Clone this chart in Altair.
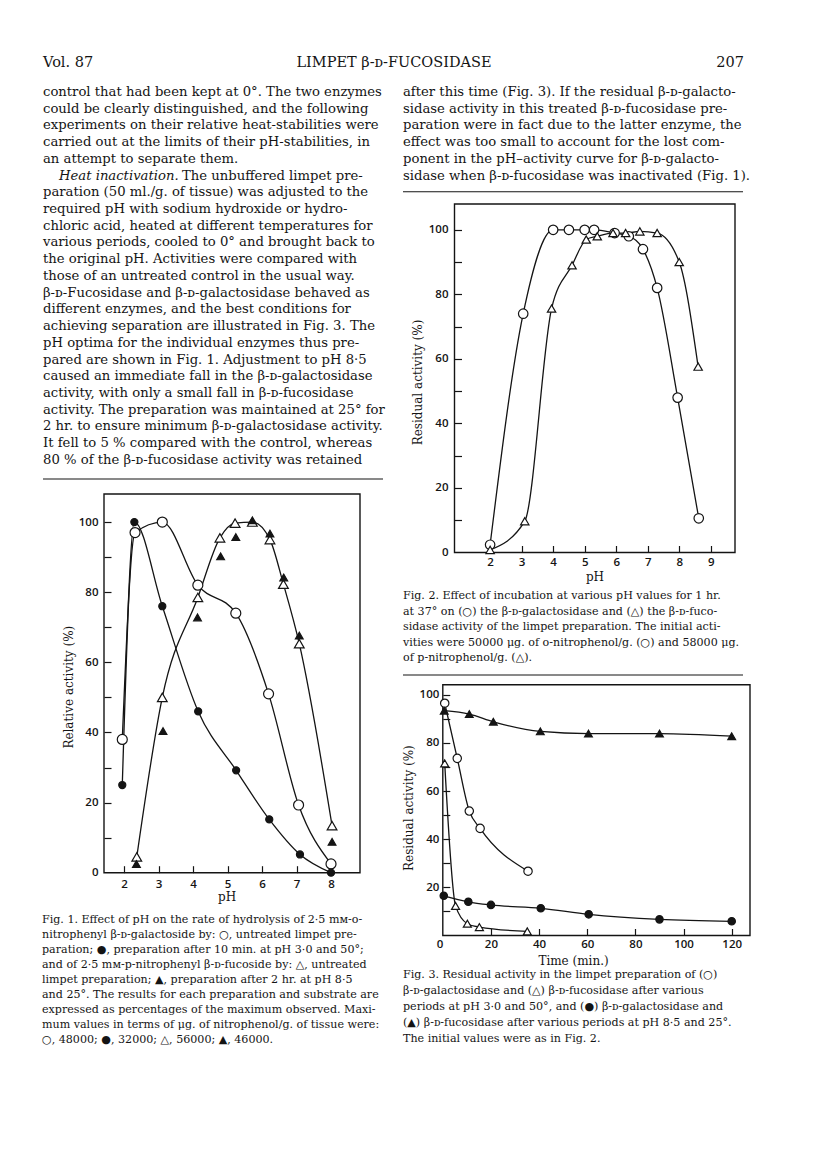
import altair as alt
import pandas as pd

W, H = 800, 1151
SERIF = "DejaVu Serif"
SANS = "Open Sans"
INK = "#141414"

# ---------------- Fig. 1 : pH vs relative activity (%) ----------------
f1_gal_open_ph = [1.95, 2.32, 3.11, 4.14, 5.24, 6.19, 7.06, 8.00]
f1_gal_open_val = [38.0, 97.0, 100.0, 82.0, 74.0, 51.0, 19.3, 2.5]
f1_gal_fill_ph = [1.95, 2.30, 3.11, 4.15, 5.25, 6.21, 7.10, 8.00]
f1_gal_fill_val = [25.0, 100.0, 76.0, 46.0, 29.2, 15.2, 5.2, 0.0]
f1_fuc_open_ph = [2.37, 3.11, 4.14, 4.78, 5.22, 5.72, 6.23, 6.62, 7.08, 8.03]
f1_fuc_open_val = [4.5, 50.0, 78.5, 95.5, 99.7, 100.0, 95.0, 82.3, 65.3, 13.4]
f1_fuc_fill_ph = [2.36, 3.13, 4.13, 4.80, 5.24, 5.72, 6.23, 6.63, 7.08, 8.03]
f1_fuc_fill_val = [2.5, 40.4, 72.8, 90.2, 95.7, 100.5, 96.7, 84.2, 67.6, 8.8]
f1_x_labels = [2, 3, 4, 5, 6, 7, 8]
f1_y_labels = [0, 20, 40, 60, 80, 100]
f1_y_ticks = [10, 20, 30, 40, 50, 60, 70, 80, 90, 100]

# ---------------- Fig. 2 : pH vs residual activity (%) ----------------
f2_gal_ph = [2.0, 3.05, 4.0, 4.5, 5.0, 5.3, 5.95, 6.4, 6.85, 7.3, 7.95, 8.62]
f2_gal_val = [2.4, 74.0, 100.0, 100.0, 100.0, 100.0, 99.0, 98.0, 94.0, 82.0, 48.0, 10.6]
f2_fuc_ph = [2.0, 3.1, 3.95, 4.6, 5.05, 5.4, 5.9, 6.3, 6.75, 7.3, 8.0, 8.6]
f2_fuc_val = [0.8, 9.7, 75.6, 89.0, 97.0, 98.0, 99.0, 99.0, 99.5, 99.0, 90.0, 57.6]
f2_x_labels = [2, 3, 4, 5, 6, 7, 8, 9]
f2_y_labels = [0, 20, 40, 60, 80, 100]
f2_y_ticks = [10, 20, 30, 40, 50, 60, 70, 80, 90, 100]

# ---------------- Fig. 3 : time (min.) vs residual activity (%) ----------------
f3_gal_30_t = [0.8, 6.0, 11.0, 15.5, 35.4]
f3_gal_30_val = [96.5, 73.6, 51.7, 44.5, 26.7]
f3_fuc_30_t = [0.8, 5.3, 10.2, 15.2, 35.1]
f3_fuc_30_val = [71.5, 12.3, 4.9, 3.5, 1.7]
f3_gal_85_t = [0.4, 10.6, 20.0, 40.7, 60.6, 90.0, 120.0]
f3_gal_85_val = [16.5, 14.0, 12.7, 11.3, 8.8, 6.7, 5.9]
f3_fuc_85_t = [0.6, 11.0, 21.0, 40.5, 60.5, 90.0, 120.0]
f3_fuc_85_val = [93.4, 92.0, 88.8, 84.8, 83.9, 83.9, 82.8]
f3_x_labels = [0, 20, 40, 60, 80, 100, 120]
f3_x_ticks = [20, 40, 60, 80, 100, 120]
f3_y_labels = [20, 40, 60, 80, 100]
f3_y_ticks = [10, 20, 30, 40, 50, 60, 70, 80, 90, 100]

# ---------------- page text ----------------
header_left = ["Vol. 87"]
header_mid = ["LIMPET β-ᴅ-FUCOSIDASE"]
header_right = ["207"]

left_col_a = [
    "control that had been kept at 0°. The two enzymes",
    "could be clearly distinguished, and the following",
    "experiments on their relative heat-stabilities were",
    "carried out at the limits of their pH-stabilities, in",
    "an attempt to separate them.",
]
left_heat_italic = ["Heat inactivation."]
left_heat_rest = ["The unbuffered limpet pre-"]
left_col_b = [
    "paration (50 ml./g. of tissue) was adjusted to the",
    "required pH with sodium hydroxide or hydro-",
    "chloric acid, heated at different temperatures for",
    "various periods, cooled to 0° and brought back to",
    "the original pH. Activities were compared with",
    "those of an untreated control in the usual way.",
    "β-ᴅ-Fucosidase and β-ᴅ-galactosidase behaved as",
    "different enzymes, and the best conditions for",
    "achieving separation are illustrated in Fig. 3. The",
    "pH optima for the individual enzymes thus pre-",
    "pared are shown in Fig. 1. Adjustment to pH 8·5",
    "caused an immediate fall in the β-ᴅ-galactosidase",
    "activity, with only a small fall in β-ᴅ-fucosidase",
    "activity. The preparation was maintained at 25° for",
    "2 hr. to ensure minimum β-ᴅ-galactosidase activity.",
    "It fell to 5 % compared with the control, whereas",
    "80 % of the β-ᴅ-fucosidase activity was retained",
]
right_col = [
    "after this time (Fig. 3). If the residual β-ᴅ-galacto-",
    "sidase activity in this treated β-ᴅ-fucosidase pre-",
    "paration were in fact due to the latter enzyme, the",
    "effect was too small to account for the lost com-",
    "ponent in the pH–activity curve for β-ᴅ-galacto-",
    "sidase when β-ᴅ-fucosidase was inactivated (Fig. 1).",
]
cap1 = [
    "Fig. 1. Effect of pH on the rate of hydrolysis of 2·5 mᴍ-o-",
    "nitrophenyl β-ᴅ-galactoside by: ○, untreated limpet pre-",
    "paration; ●, preparation after 10 min. at pH 3·0 and 50°;",
    "and of 2·5 mᴍ-p-nitrophenyl β-ᴅ-fucoside by: △, untreated",
    "limpet preparation; ▲, preparation after 2 hr. at pH 8·5",
    "and 25°. The results for each preparation and substrate are",
    "expressed as percentages of the maximum observed. Maxi-",
    "mum values in terms of μg. of nitrophenol/g. of tissue were:",
    "○, 48000; ●, 32000; △, 56000; ▲, 46000.",
]
cap2 = [
    "Fig. 2. Effect of incubation at various pH values for 1 hr.",
    "at 37° on (○) the β-ᴅ-galactosidase and (△) the β-ᴅ-fuco-",
    "sidase activity of the limpet preparation. The initial acti-",
    "vities were 50000 μg. of o-nitrophenol/g. (○) and 58000 μg.",
    "of p-nitrophenol/g. (△).",
]
cap3 = [
    "Fig. 3. Residual activity in the limpet preparation of (○)",
    "β-ᴅ-galactosidase and (△) β-ᴅ-fucosidase after various",
    "periods at pH 3·0 and 50°, and (●) β-ᴅ-galactosidase and",
    "(▲) β-ᴅ-fucosidase after various periods at pH 8·5 and 25°.",
    "The initial values were as in Fig. 2.",
]


# ---------------- helpers ----------------
def text_layer(lines, x, y0, dy, size, font=SERIF, style="normal", align="left", weight="normal"):
    n = len(lines)
    top = max(n - 1, 1)
    df = pd.DataFrame({"row": list(range(n)), "txt": lines})
    ys = alt.Scale(domain=[0, top], range=[y0, y0 + dy * top], nice=False, zero=False)
    return alt.Chart(df).mark_text(
        align=align, baseline="middle", font=font, fontSize=size,
        fontStyle=style, fontWeight=weight, color=INK
    ).encode(x=alt.value(x), y=alt.Y("row:Q", scale=ys, axis=None), text="txt:N")


def hrule(x1, x2, y):
    return alt.Chart(pd.DataFrame({"k": [0]})).mark_rule(color=INK, strokeWidth=1.1).encode(
        x=alt.value(x1), x2=alt.value(x2), y=alt.value(y))


def build_figure(series, xdom, xrng, ydom, yrng, x_labels, y_labels, x_ticks, y_ticks,
                 x_title, y_title, x_title_pos, y_title_pos, x_pad, y_pad, x_label_align="center"):
    xs = alt.Scale(domain=xdom, range=xrng, nice=False, zero=False)
    ys = alt.Scale(domain=ydom, range=yrng, nice=False, zero=False)
    frame_df = pd.DataFrame({"x0": [xdom[0]], "x1": [xdom[1]], "y0": [ydom[0]], "y1": [ydom[1]]})

    lab = dict(labelFont=SANS, labelFontSize=11.5, labelFontWeight=600, labelColor=INK,
               labelFlush=False, labelOverlap=False, grid=False, domain=False,
               ticks=False, tickSize=0, minExtent=0, titleFont=SERIF, titleFontSize=12,
               titleFontWeight="normal", titleColor=INK, titleBaseline="middle", titleAlign="center")
    x_axis = alt.Axis(orient="bottom", offset=yrng[0] - H, values=x_labels, labelPadding=x_pad,
                      labelAlign=x_label_align, title=x_title, titleX=x_title_pos[0],
                      titleY=x_title_pos[1] - yrng[0], **lab)
    y_axis = alt.Axis(orient="left", offset=-xrng[0], values=y_labels, labelPadding=y_pad,
                      title=y_title, titleX=y_title_pos[0] - xrng[0], titleY=y_title_pos[1],
                      titleAngle=270, **lab)
    tk = dict(labels=False, domain=False, grid=False, ticks=True, tickSize=7, tickWidth=1.2,
              tickColor=INK, title=None, minExtent=0)
    xt_axis = alt.Axis(orient="top", offset=-yrng[0], values=x_ticks, **tk)
    yt_axis = alt.Axis(orient="right", offset=xrng[0] - W, values=y_ticks, **tk)

    frame = alt.Chart(frame_df).mark_rect(fillOpacity=0, stroke=INK, strokeWidth=1.4).encode(
        x=alt.X("x0:Q", scale=xs, axis=x_axis), x2="x1:Q",
        y=alt.Y("y0:Q", scale=ys, axis=y_axis), y2="y1:Q")
    tickframe = alt.Chart(frame_df).mark_rect(opacity=0).encode(
        x=alt.X("x0:Q", scale=xs, axis=xt_axis), x2="x1:Q",
        y=alt.Y("y0:Q", scale=ys, axis=yt_axis), y2="y1:Q")

    lines, pts = [], []
    for s in series:
        df = pd.DataFrame({"x": s["x"], "y": s["y"]})
        base = alt.Chart(df).encode(x=alt.X("x:Q", scale=xs, axis=None),
                                    y=alt.Y("y:Q", scale=ys, axis=None))
        if s["line"]:
            lines.append(base.mark_line(interpolate="monotone", color=INK, strokeWidth=1.3))
        pts.append(base.mark_point(shape=s["shape"], filled=True, fill=s["fill"], stroke=INK,
                                   strokeWidth=1.2, size=s["size"], opacity=1))
    return alt.layer(frame, tickframe, *lines, *pts).resolve_axis(x="independent", y="independent")


WHITE = "white"
fig1 = build_figure(
    [
        dict(x=f1_gal_open_ph, y=f1_gal_open_val, line=True, shape="circle", fill=WHITE, size=100),
        dict(x=f1_gal_fill_ph, y=f1_gal_fill_val, line=True, shape="circle", fill=INK, size=50),
        dict(x=f1_fuc_open_ph, y=f1_fuc_open_val, line=True, shape="triangle-up", fill=WHITE, size=95),
        dict(x=f1_fuc_fill_ph, y=f1_fuc_fill_val, line=False, shape="triangle-up", fill=INK, size=60),
    ],
    [1.42, 8.84], [96, 352], [0, 108], [864.7, 486],
    f1_x_labels, f1_y_labels, f1_x_labels, f1_y_ticks,
    "pH", "Relative activity (%)", (218.7, 888), (60, 678.7), 6, 6)

fig2 = build_figure(
    [
        dict(x=f2_gal_ph, y=f2_gal_val, line=True, shape="circle", fill=WHITE, size=90),
        dict(x=f2_fuc_ph, y=f2_fuc_val, line=True, shape="triangle-up", fill=WHITE, size=70),
    ],
    [0.87, 9.77], [446.5, 727], [0, 108], [544.5, 196],
    f2_x_labels, f2_y_labels, f2_x_labels, f2_y_ticks,
    "pH", "Residual activity (%)", (586.5, 568), (409, 374), 3.5, 6.5)

fig3 = build_figure(
    [
        dict(x=f3_gal_30_t, y=f3_gal_30_val, line=True, shape="circle", fill=WHITE, size=70),
        dict(x=f3_fuc_30_t, y=f3_fuc_30_val, line=True, shape="triangle-up", fill=WHITE, size=65),
        dict(x=f3_gal_85_t, y=f3_gal_85_val, line=True, shape="circle", fill=INK, size=55),
        dict(x=f3_fuc_85_t, y=f3_fuc_85_val, line=True, shape="triangle-up", fill=INK, size=60),
    ],
    [0, 127.6], [434.8, 742], [0, 104.2], [927.5, 676.7],
    f3_x_labels, f3_y_labels, f3_x_ticks, f3_y_ticks,
    "Time (min.)", "Residual activity (%)", (565, 952), (400.4, 799.6), 3, 4,
    x_label_align={"condition": {"test": "datum.value === 0", "value": "right"}, "value": "center"})

BODY = 13.2
LH = 16.72
CAP = 11.1
HEAD = 14.5
layers = [
    text_layer(header_left, 35, 55, 0, HEAD),
    text_layer(header_mid, 386, 55, 0, HEAD, align="center"),
    text_layer(header_right, 736, 55, 0, HEAD, align="right"),
    text_layer(left_col_a, 35, 84, LH, BODY),
    text_layer(left_heat_italic, 51, 84 + 5 * LH, 0, BODY, style="italic"),
    text_layer(left_heat_rest, 174, 84 + 5 * LH, 0, BODY),
    text_layer(left_col_b, 35, 84 + 6 * LH, LH, BODY),
    text_layer(right_col, 395, 84, LH, BODY),
    hrule(35, 375, 471),
    hrule(395, 735, 183.7),
    hrule(395, 735, 667),
    text_layer(cap1, 34, 912, 15, CAP),
    text_layer(cap2, 395, 588, 15.5, CAP),
    text_layer(cap3, 395, 967, 16, CAP),
    fig1, fig2, fig3,
]

chart = alt.layer(*layers).resolve_scale(
    x="independent", y="independent"
).resolve_axis(
    x="independent", y="independent"
).properties(
    width=W, height=H, autosize=alt.AutoSizeParams(type="none"), padding=0
).configure_view(strokeWidth=0)

chart.save("out.html", embed_options={"renderer": "svg", "actions": False})
